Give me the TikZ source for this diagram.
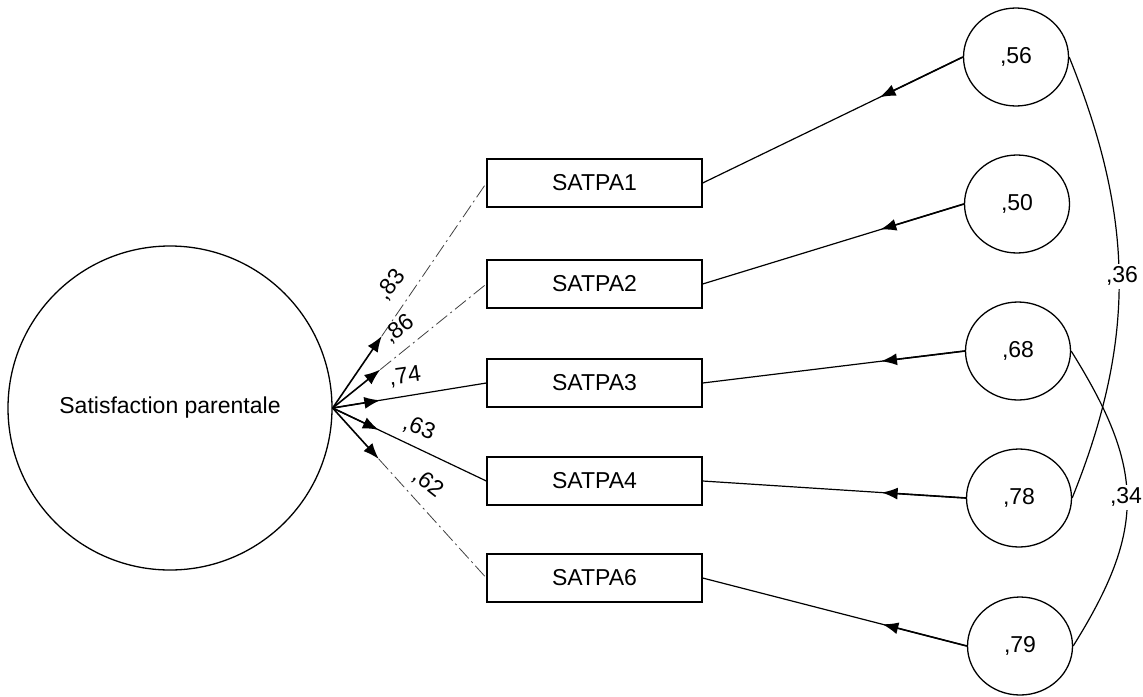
\documentclass[tikz,border=0pt]{standalone}
\usepackage{fontspec}
\setmainfont{Liberation Sans}
\usepackage{tikz}
\usetikzlibrary{calc}
\usetikzlibrary{shapes.geometric}
\usetikzlibrary{arrows.meta}

\begin{document}
\begin{tikzpicture}[x=0.5pt,y=-0.5pt,
    every node/.style={font=\fontsize{11.5}{13}\selectfont},
    latent/.style={draw,circle,line width=0.65pt,minimum size=162pt,inner sep=0pt},
    obs/.style={draw,rectangle,line width=0.65pt,minimum width=107.5pt,minimum height=24pt,inner sep=0pt},
    err/.style={draw,ellipse,line width=0.65pt,minimum width=52.5pt,minimum height=49pt,inner sep=0pt},
    tip/.style={-{Latex[length=8pt,width=6pt]},line width=0.8pt},
    faint/.style={line width=0.4pt,black!75,dash pattern=on 7pt off 2pt on 1pt off 2pt},
    link/.style={line width=0.6pt},
    lbl/.style={inner sep=0pt}]
    \useasboundingbox (0,0) rectangle (1143,696);
    \node[latent] (sat) at (170,408){Satisfaction parentale};
    \node[obs] (p1) at (594.5,183){SATPA1};
    \node[obs] (p2) at (594.5,284){SATPA2};
    \node[obs] (p3) at (594.5,383){SATPA3};
    \node[obs] (p4) at (594.5,481){SATPA4};
    \node[obs] (p6) at (594.5,578){SATPA6};
    \node[err] (e1) at (1016,57){,56};
    \node[err] (e2) at (1017,204){,50};
    \node[err] (e3) at (1018,351){,68};
    \node[err] (e4) at (1019,498){,78};
    \node[err] (e5) at (1020,646){,79};
    % loadings
    \draw[tip](sat.east)--($(sat.east)!0.32!(p1.west)$);
    \draw[faint]($(sat.east)!0.32!(p1.west)$)--(p1.west);
    \draw[tip](sat.east)--($(sat.east)!0.31!(p2.west)$);
    \draw[faint]($(sat.east)!0.31!(p2.west)$)--(p2.west);
    \draw[link](sat.east)--(p3.west);
    \draw[tip](sat.east)--($(sat.east)!0.31!(p3.west)$);
    \draw[link](sat.east)--(p4.west);
    \draw[tip](sat.east)--($(sat.east)!0.30!(p4.west)$);
    \draw[tip](sat.east)--($(sat.east)!0.30!(p6.west)$);
    \draw[faint]($(sat.east)!0.30!(p6.west)$)--(p6.west);
    \node[lbl,rotate=52] (l1) at (391,285){,83};
    \node[lbl,rotate=37] (l2) at (399,329){,86};
    \node[lbl,rotate=8] (l3) at (405,377){,74};
    \node[lbl,rotate=-22] (l4) at (419,428){,63};
    \node[lbl,rotate=-38] (l6) at (428,483){,62};
    % errors
    \draw[link](e1.west)--(p1.east);
    \draw[tip](e1.west)--($(e1.west)!0.32!(p1.east)$);
    \draw[link](e2.west)--(p2.east);
    \draw[tip](e2.west)--($(e2.west)!0.32!(p2.east)$);
    \draw[link](e3.west)--(p3.east);
    \draw[tip](e3.west)--($(e3.west)!0.32!(p3.east)$);
    \draw[link](e4.west)--(p4.east);
    \draw[tip](e4.west)--($(e4.west)!0.32!(p4.east)$);
    \draw[link](e5.west)--(p6.east);
    \draw[tip](e5.west)--($(e5.west)!0.32!(p6.east)$);
    % covariances
    \draw[link](e1.east) to[out=-68,in=68] (e4.east);
    \draw[link](e3.east) to[out=-58,in=58,looseness=1.2] (e5.east);
    \node[lbl,fill=white,inner sep=1.5pt] (c1) at (1122,276){,36};
    \node[lbl,fill=white,inner sep=1.5pt] (c2) at (1126,497){,34};
\end{tikzpicture}
\end{document}
